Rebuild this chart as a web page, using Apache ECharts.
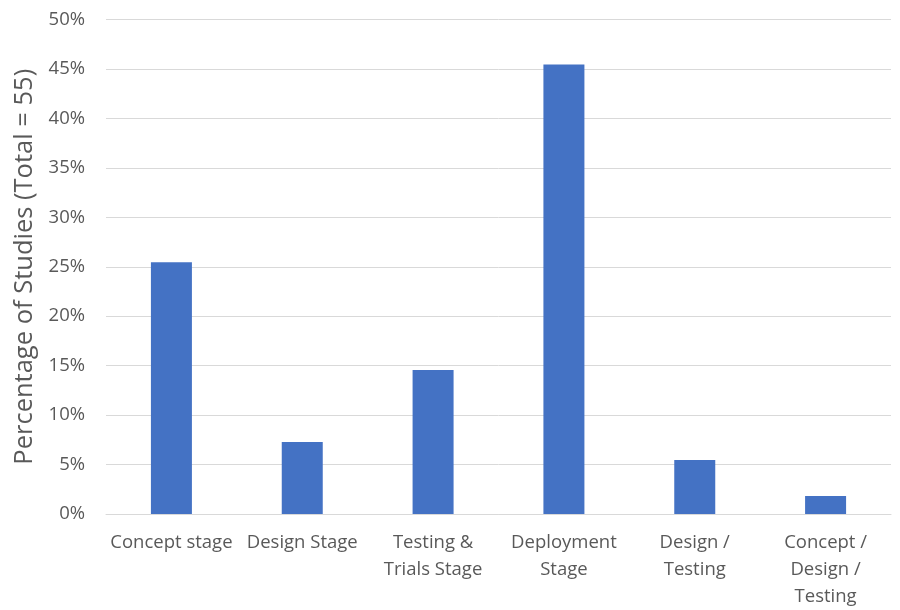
<!DOCTYPE html>
<html>
<head>
<meta charset="utf-8">
<script src="https://cdn.jsdelivr.net/npm/echarts@6/dist/echarts.min.js"></script>
<style>html,body{margin:0;padding:0;background:#fff;}#c{width:900px;height:610px;}</style>
</head>
<body>
<div id="c"></div>
<script>
const categories = ["Concept stage", "Design Stage", "Testing &\nTrials Stage", "Deployment\nStage", "Design /\nTesting", "Concept /\nDesign /\nTesting"];
const values = [25.45, 7.27, 14.55, 45.45, 5.45, 1.82];
const yAxisTitle = "Percentage of Studies (Total = 55)";

const chart = echarts.init(document.getElementById('c'), null, {renderer: 'canvas'});
chart.setOption({
  animation: false,
  backgroundColor: '#ffffff',
  grid: {left: 106, right: 9, top: 19.5, bottom: 92, containLabel: false},
  xAxis: {
    type: 'category',
    data: categories,
    axisLine: {show: true, lineStyle: {color: '#d9d9d9', width: 1}},
    axisTick: {show: false},
    axisLabel: {color: '#595959', fontFamily: 'Open Sans', fontSize: 18.5, lineHeight: 27, margin: 15, interval: 0}
  },
  yAxis: {
    type: 'value',
    min: 0, max: 50, interval: 5,
    name: yAxisTitle,
    nameLocation: 'middle',
    nameGap: 67,
    nameTextStyle: {color: '#595959', fontFamily: 'Open Sans', fontSize: 25.5},
    axisLine: {show: false},
    axisTick: {show: false},
    axisLabel: {color: '#595959', fontFamily: 'Open Sans', fontSize: 18.5, margin: 21, formatter: '{value}%'},
    splitLine: {lineStyle: {color: '#d9d9d9', width: 1}}
  },
  series: [{
    type: 'bar',
    data: values,
    barWidth: 41,
    itemStyle: {color: '#4472c4'}
  }]
});
</script>
</body>
</html>
